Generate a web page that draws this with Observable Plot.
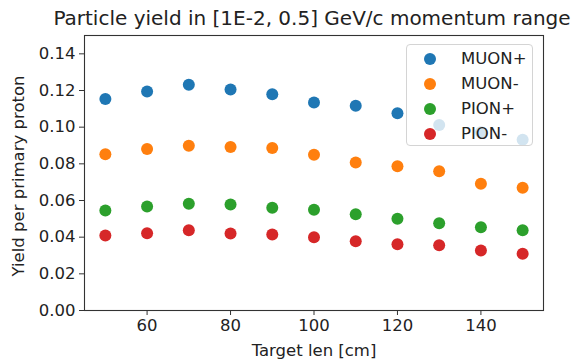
<!DOCTYPE html>
<html>
<head>
<meta charset="utf-8">
<script src="https://cdn.jsdelivr.net/npm/d3@7"></script>
<script src="https://cdn.jsdelivr.net/npm/@observablehq/plot@0.6"></script>
<style>
  html, body { margin: 0; padding: 0; background: #fff; }
  #wrap { position: relative; width: 579px; height: 360px; font-family: "DejaVu Sans", sans-serif; }
  #legend { position: absolute; left: 406px; top: 44px; width: 127px; height: 102px;
    background: rgba(255,255,255,0.8); border: 1px solid #d4d4d4; border-radius: 4px; box-sizing: border-box; }
  #legend .row { position: absolute; left: 0; height: 20px; }
  #legend .mk { position: absolute; left: 17px; width: 12px; height: 12px; border-radius: 50%; }
  #legend .lb { position: absolute; left: 54px; top: 0; font-size: 16.5px; color: #222; white-space: nowrap; line-height: 20px; }
</style>
</head>
<body>
<div id="wrap"><div id="legend"></div></div>
<script>
const title = "Particle yield in [1E-2, 0.5] GeV/c momentum range";
const xLabel = "Target len [cm]";
const yLabel = "Yield per primary proton";
const targetLen = [50, 60, 70, 80, 90, 100, 110, 120, 130, 140, 150];
const seriesNames = ["MUON+", "MUON-", "PION+", "PION-"];
const seriesColors = ["#1f77b4", "#ff7f0e", "#2ca02c", "#d62728"];
const muonPlus  = [0.1154, 0.1194, 0.1232, 0.1206, 0.1179, 0.1134, 0.1117, 0.1076, 0.1012, 0.0972, 0.0932];
const muonMinus = [0.0852, 0.0881, 0.0898, 0.0892, 0.0887, 0.0850, 0.0807, 0.0787, 0.0760, 0.0692, 0.0669];
const pionPlus  = [0.0545, 0.0567, 0.0582, 0.0578, 0.0561, 0.0549, 0.0525, 0.0501, 0.0476, 0.0454, 0.0438];
const pionMinus = [0.0409, 0.0421, 0.0438, 0.0420, 0.0414, 0.0400, 0.0378, 0.0361, 0.0356, 0.0327, 0.0309];
const xTicks = [60, 80, 100, 120, 140];
const yTicks = [0, 0.02, 0.04, 0.06, 0.08, 0.10, 0.12, 0.14];

const seriesValues = [muonPlus, muonMinus, pionPlus, pionMinus];
const data = [];
seriesNames.forEach((name, i) => {
  targetLen.forEach((x, j) => data.push({series: name, len: x, yield: seriesValues[i][j]}));
});

const fs = 16.5;
const chart = Plot.plot({
  width: 579,
  height: 360,
  marginLeft: 84,
  marginRight: 36,
  marginTop: 35,
  marginBottom: 50,
  style: {fontFamily: "DejaVu Sans, sans-serif", background: "white", color: "#222"},
  x: {domain: [45, 155]},
  y: {domain: [0, 0.15]},
  color: {domain: seriesNames, range: seriesColors},
  marks: [
    Plot.dot(data, {x: "len", y: "yield", fill: "series", r: 6}),
    Plot.frame({stroke: "#333", strokeWidth: 1.1}),
    Plot.axisX({ticks: xTicks, tickSize: 5, tickPadding: 4, fontSize: fs, label: null, tickFormat: d3.format("d"), stroke: "#333"}),
    Plot.axisY({ticks: yTicks, tickSize: 5, tickPadding: 4, fontSize: fs, label: null, tickFormat: d3.format(".2f"), stroke: "#333"}),
    Plot.text([title], {text: d => d, frameAnchor: "top", dx: -2, dy: -17, fontSize: 20, fill: "#222", lineAnchor: "middle"}),
    Plot.text([xLabel], {text: d => d, frameAnchor: "bottom", dy: 40, fontSize: fs, fill: "#222", lineAnchor: "middle"}),
    Plot.text([yLabel], {text: d => d, frameAnchor: "left", dx: -66, dy: 3, rotate: -90, textAnchor: "middle", fontSize: fs, fill: "#222", lineAnchor: "middle"})
  ]
});
document.getElementById("wrap").prepend(chart);

const legend = document.getElementById("legend");
const rowCenters = [14, 39, 64, 88.5];
seriesNames.forEach((name, i) => {
  const row = document.createElement("div");
  row.className = "row";
  row.style.top = (rowCenters[i] - 10) + "px";
  row.style.width = "100%";
  const mk = document.createElement("div");
  mk.className = "mk";
  mk.style.background = seriesColors[i];
  mk.style.top = "4px";
  const lb = document.createElement("div");
  lb.className = "lb";
  lb.textContent = name;
  row.appendChild(mk);
  row.appendChild(lb);
  legend.appendChild(row);
});
</script>
</body>
</html>
